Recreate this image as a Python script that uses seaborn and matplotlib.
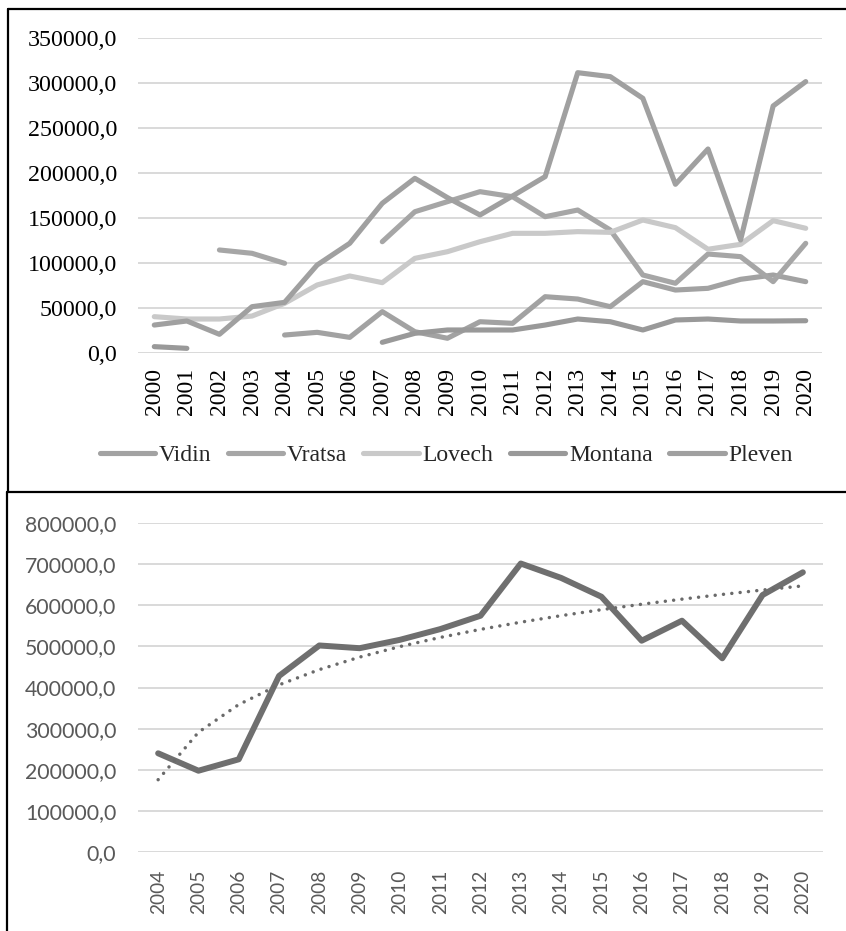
import numpy as np
import pandas as pd
import matplotlib
matplotlib.use("Agg")
import matplotlib.pyplot as plt
import seaborn as sns
from matplotlib.lines import Line2D

nan = np.nan

# ---------------- data (top chart) ----------------
years_top = list(range(2000, 2021))
series_names = ["Vidin", "Vratsa", "Lovech", "Montana", "Pleven"]
vidin = [nan, nan, nan, nan, 20300, 23300, 17700, 46300, 24000, 16700, 35100,
         33300, 62900, 60300, 51800, 79600, 70300, 72200, 82200, 87000, 79600]
vratsa = [nan, nan, 114800, 111100, 100000, nan, nan, 124000, 157300, 168500, 179600,
          174000, 151800, 159200, 137000, 87000, 77800, 110300, 107400, 79600, 122200]
lovech = [40700, 38100, 38100, 41400, 55500, 75900, 85900, 78500, 105500, 112900, 124000,
          133300, 133300, 135200, 134400, 148100, 139600, 115600, 121100, 147400, 138900]
montana = [7400, 5500, nan, nan, nan, nan, nan, 12200, 22200, 25900, 25900,
           25900, 31400, 38100, 35100, 25900, 37000, 38100, 35900, 35900, 36200]
pleven = [31400, 35900, 21100, 51800, 56600, 98100, 122200, 166700, 194400, 173000, 153700,
          174800, 196300, 311800, 307400, 283300, 187800, 227000, 125900, 274800, 301900]
series_colors = ["#a2a2a2", "#a6a6a6", "#c9c9c9", "#999999", "#a0a0a0"]

# ---------------- data (bottom chart) ----------------
years_bottom = list(range(2004, 2021))
total = [240300, 198000, 225700, 428000, 502000, 495400, 515700, 541700, 574200,
         700900, 666000, 620400, 513600, 562100, 470900, 624500, 679600]

W, H = 846, 931
fig = plt.figure(figsize=(W / 100, H / 100), dpi=100)
sns.set_style("white")
plt.rcParams["font.family"] = ["Liberation Serif", "DejaVu Serif"]


def fx(px):
    return px / W


def fy(py):
    return 1 - py / H


def fmt(v):
    return f"{v:.1f}".replace(".", ",")


# ---------------- top chart ----------------
ax1 = fig.add_axes([fx(138), fy(353.3), fx(822) - fx(138), fy(38.3) - fy(353.3)])
df_top = pd.DataFrame({"year": years_top, "Vidin": vidin, "Vratsa": vratsa,
                       "Lovech": lovech, "Montana": montana, "Pleven": pleven})
handles = []
for name, col in zip(series_names, series_colors):
    s = df_top[["year", name]].copy()
    grp = s[name].isna().cumsum()
    valid = s[s[name].notna()]
    for _, seg in valid.groupby(grp[s[name].notna()]):
        sns.lineplot(data=seg, x="year", y=name, ax=ax1, color=col, lw=3.7,
                     solid_capstyle="round", solid_joinstyle="round", legend=False)
    handles.append(Line2D([], [], color=col, lw=3.7, solid_capstyle="round", label=name))

ax1.set_xlim(years_top[0] - 0.5, years_top[-1] + 0.5)
ax1.set_ylim(0, 350000)
yt = np.arange(0, 350001, 50000)
ax1.set_yticks(yt)
ax1.set_yticklabels([fmt(v) for v in yt], fontsize=17.3, color="black")
ax1.set_xticks(years_top)
ax1.set_xticklabels([str(y) for y in years_top], rotation=90, fontsize=17, color="black")
ax1.tick_params(axis="y", length=0, pad=15)
ax1.tick_params(axis="x", length=0, pad=10.5)
ax1.yaxis.grid(True, color="#d9d9d9", lw=1.4)
ax1.xaxis.grid(False)
ax1.set_axisbelow(True)
for sp in ax1.spines.values():
    sp.set_visible(False)
ax1.set_xlabel("")
ax1.set_ylabel("")

fig.legend(handles=handles, loc="center", bbox_to_anchor=(fx(446), fy(455)), ncol=5,
           frameon=False, fontsize=17, handlelength=2.35, handletextpad=0.15,
           columnspacing=0.7, borderaxespad=0, borderpad=0)

# ---------------- bottom chart ----------------
ax2 = fig.add_axes([fx(138), fy(852.3), fx(823) - fx(138), fy(522.7) - fy(852.3)])
df_bot = pd.DataFrame({"year": years_bottom, "total": total})
sns.lineplot(data=df_bot, x="year", y="total", ax=ax2, color="#6f6f6f", lw=4.3,
             solid_capstyle="round", solid_joinstyle="round", legend=False)
# logarithmic trend line (fit from the data)
xi = np.arange(1, len(years_bottom) + 1)
b, a = np.polyfit(np.log(xi), df_bot["total"].values, 1)
df_bot["trend"] = a + b * np.log(xi)
sns.lineplot(data=df_bot, x="year", y="trend", ax=ax2, color="#6a6a6a", lw=2.5,
             linestyle=(0, (0.01, 2.4)), dash_capstyle="round", legend=False)

ax2.set_xlim(years_bottom[0] - 0.5, years_bottom[-1] + 0.5)
ax2.set_ylim(0, 800000)
yt2 = np.arange(0, 800001, 100000)
ax2.set_yticks(yt2)
ax2.set_yticklabels([fmt(v) for v in yt2], fontsize=15.3, color="#595959",
                    family=["Lato", "DejaVu Sans"])
ax2.set_xticks(years_bottom)
ax2.set_xticklabels([str(y) for y in years_bottom], rotation=90, fontsize=13.8,
                    color="#595959", family=["Lato", "DejaVu Sans"])
ax2.tick_params(axis="y", length=0, pad=15.5)
ax2.tick_params(axis="x", length=0, pad=12.5)
ax2.yaxis.grid(True, color="#d9d9d9", lw=1.4)
ax2.xaxis.grid(False)
ax2.set_axisbelow(True)
for sp in ax2.spines.values():
    sp.set_visible(False)
ax2.set_xlabel("")
ax2.set_ylabel("")

# ---------------- chart borders ----------------
blw = 1.6
fig.add_artist(Line2D([fx(8.3), fx(8.3)], [fy(9), fy(492)], color="black", lw=blw))
fig.add_artist(Line2D([fx(8.3), 1.0], [fy(9), fy(9)], color="black", lw=blw))
fig.add_artist(Line2D([fx(6.5), 1.0], [fy(492), fy(492)], color="black", lw=blw))
fig.add_artist(Line2D([fx(6.5), fx(6.5)], [fy(492), 0.0], color="black", lw=blw))

fig.savefig("out.png", dpi=100, facecolor="white")
